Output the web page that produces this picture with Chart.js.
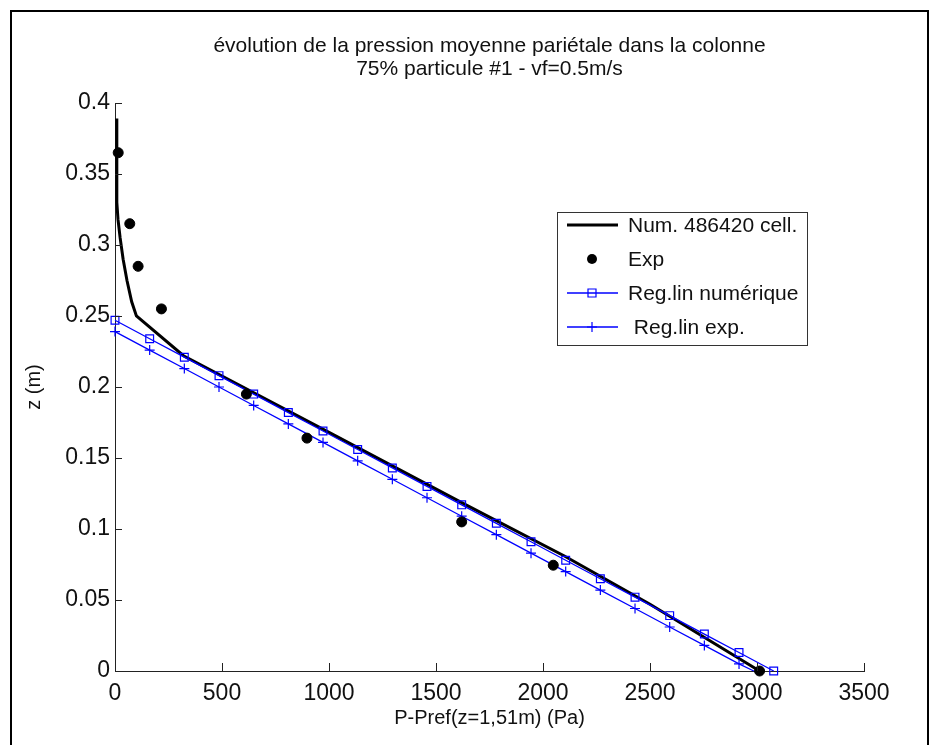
<!DOCTYPE html>
<html>
<head>
<meta charset="utf-8">
<title>pression moyenne pariétale</title>
<script src="https://cdn.jsdelivr.net/npm/chart.js@4.4.1/dist/chart.umd.min.js"></script>
<style>
  html, body { margin: 0; padding: 0; background: #fff; }
  #wrap { position: relative; width: 934px; height: 745px; overflow: hidden; }
  #frame { position: absolute; left: 10px; top: 10px; width: 915px; height: 780px; border: 2px solid #000; pointer-events: none; }
  canvas { position: absolute; left: 0; top: 0; }
</style>
</head>
<body>
<div id="wrap">
  <canvas id="myChart" width="934" height="745"></canvas>
  <div id="frame"></div>
</div>
<script>
// values: P - Pref (Pa) against z (m)
let numP = [8, 8, 9, 14, 24, 38, 56, 78, 100, 320, 1000, 1640, 2100, 2500, 3012];
let numZ = [0.389, 0.36, 0.33, 0.318, 0.305, 0.29, 0.275, 0.26, 0.25, 0.222, 0.168, 0.117, 0.081, 0.047, 0];

let expP = [15, 69, 108, 217, 614, 897, 1620, 2048, 3012];
let expZ = [0.365, 0.315, 0.285, 0.255, 0.195, 0.164, 0.105, 0.0745, 0];

let regNumP = [0, 162, 324, 486, 648, 810, 972, 1134, 1296, 1458, 1620, 1782, 1944, 2106, 2268, 2430, 2592, 2754, 2916, 3078];
let regNumZ = [0.247, 0.234, 0.221, 0.208, 0.195, 0.182, 0.169, 0.156, 0.143, 0.130, 0.117, 0.104, 0.091, 0.078, 0.065, 0.052, 0.039, 0.026, 0.013, 0];

let regExpP = [0, 162, 324, 486, 648, 810, 972, 1134, 1296, 1458, 1620, 1782, 1944, 2106, 2268, 2430, 2592, 2754, 2916, 2985];
let regExpZ = [0.239, 0.226, 0.213, 0.200, 0.187, 0.174, 0.161, 0.148, 0.135, 0.122, 0.109, 0.096, 0.083, 0.070, 0.057, 0.044, 0.031, 0.018, 0.005, 0];

let seriesLabels = ["Num. 486420 cell.", "Exp", "Reg.lin numérique", " Reg.lin exp."];
let titleLines = ["évolution de la pression moyenne pariétale dans la colonne", "75% particule #1 - vf=0.5m/s"];
let xTitle = "P-Pref(z=1,51m) (Pa)";
let yTitle = "z (m)";

let fontFamily = "'Liberation Sans', Arial, Helvetica, sans-serif";
let blue = "#0000ff";

function toPoints(xs, ys) {
  return xs.map((x, i) => ({ x: x, y: ys[i] }));
}

// title centred over the axes, like matlab does
let axesTitle = {
  id: "axesTitle",
  afterDraw(chart) {
    let { ctx, chartArea } = chart;
    let cx = (chartArea.left + chartArea.right) / 2;
    ctx.save();
    ctx.fillStyle = "#111";
    ctx.font = "21px " + fontFamily;
    ctx.textAlign = "center";
    ctx.textBaseline = "middle";
    ctx.fillText(titleLines[0], cx, 46);
    ctx.fillText(titleLines[1], cx, 69);
    ctx.restore();
  },
};

// matlab style ticks pointing into the plot
let inwardTicks = {
  id: "inwardTicks",
  afterDatasetsDraw(chart) {
    let { ctx, chartArea } = chart;
    let xs = chart.scales.x;
    let ys = chart.scales.y;
    ctx.save();
    ctx.strokeStyle = "#222";
    ctx.lineWidth = 1;
    xs.ticks.forEach((t) => {
      let px = Math.round(xs.getPixelForValue(t.value)) + 0.5;
      ctx.beginPath();
      ctx.moveTo(px, chartArea.bottom);
      ctx.lineTo(px, chartArea.bottom - 8);
      ctx.stroke();
    });
    ys.ticks.forEach((t) => {
      let py = Math.round(ys.getPixelForValue(t.value)) + 0.5;
      ctx.beginPath();
      ctx.moveTo(chartArea.left, py);
      ctx.lineTo(chartArea.left + 7, py);
      ctx.stroke();
    });
    ctx.restore();
  },
};

function drawMarker(ctx, style, x, y) {
  ctx.beginPath();
  if (style === "rect") {
    ctx.rect(x - 4, y - 4, 8, 8);
    ctx.stroke();
  } else if (style === "cross") {
    ctx.moveTo(x - 5, y); ctx.lineTo(x + 5, y);
    ctx.moveTo(x, y - 5); ctx.lineTo(x, y + 5);
    ctx.stroke();
  } else if (style === "circle") {
    ctx.arc(x, y, 5, 0, Math.PI * 2);
    ctx.fill();
  }
}

// boxed legend inside the plot, upper right
let boxLegend = {
  id: "boxLegend",
  afterDraw(chart) {
    let ctx = chart.ctx;
    let left = 557, top = 212, w = 250, h = 133;
    let rows = [225, 259, 293, 327];
    ctx.save();
    ctx.fillStyle = "#fff";
    ctx.fillRect(left, top, w, h);
    ctx.strokeStyle = "#333";
    ctx.lineWidth = 1;
    ctx.strokeRect(left + 0.5, top + 0.5, w, h);
    ctx.font = "21px " + fontFamily;
    ctx.textBaseline = "middle";
    chart.data.datasets.forEach((ds, i) => {
      let y = rows[i];
      ctx.strokeStyle = ds.borderColor;
      ctx.fillStyle = ds.borderColor;
      if (ds.showLine !== false) {
        ctx.lineWidth = ds.borderWidth;
        ctx.beginPath();
        ctx.moveTo(567, y);
        ctx.lineTo(618, y);
        ctx.stroke();
      }
      ctx.lineWidth = 1.2;
      if (ds.legendMarker) drawMarker(ctx, ds.pointStyle, 592, y);
      ctx.fillStyle = "#111";
      ctx.fillText(ds.label, 628, y + 1);
    });
    ctx.restore();
  },
};

let ctx = document.getElementById("myChart").getContext("2d");
let chart = new Chart(ctx, {
  type: "line",
  data: {
    datasets: [
      {
        label: seriesLabels[0],
        data: toPoints(numP, numZ),
        borderColor: "#000",
        borderWidth: 3,
        pointRadius: 0,
        pointStyle: "circle",
        legendMarker: false,
        tension: 0,
        clip: false,
        order: 3,
      },
      {
        label: seriesLabels[1],
        data: toPoints(expP, expZ),
        borderColor: "#000",
        backgroundColor: "#000",
        showLine: false,
        pointStyle: "circle",
        legendMarker: true,
        pointRadius: 5,
        pointBorderWidth: 1,
        clip: false,
        order: 0,
      },
      {
        label: seriesLabels[2],
        data: toPoints(regNumP, regNumZ),
        borderColor: blue,
        borderWidth: 1.3,
        pointStyle: "rect",
        legendMarker: true,
        pointRadius: 5.5,
        pointBorderWidth: 1.2,
        pointBackgroundColor: "rgba(0,0,0,0)",
        pointBorderColor: blue,
        clip: false,
        order: 1,
      },
      {
        label: seriesLabels[3],
        data: toPoints(regExpP, regExpZ),
        borderColor: blue,
        borderWidth: 1.3,
        pointStyle: "cross",
        legendMarker: true,
        pointRadius: (c) => (c.dataIndex === regExpP.length - 1 ? 0 : 5),
        pointBorderWidth: 1.2,
        pointBorderColor: blue,
        clip: false,
        order: 2,
      },
    ],
  },
  options: {
    responsive: false,
    animation: false,
    events: [],
    layout: { padding: { left: 0, right: 70, top: 103, bottom: 0 } },
    plugins: {
      legend: { display: false },
      tooltip: { enabled: false },
      title: { display: false },
    },
    scales: {
      x: {
        type: "linear",
        min: 0,
        max: 3500,
        grid: { display: false, drawTicks: false },
        border: { display: true, color: "#222", width: 1 },
        ticks: {
          stepSize: 500,
          color: "#111",
          padding: 9,
          maxRotation: 0,
          font: { family: fontFamily, size: 23 },
          callback: (v) => String(v),
        },
        title: {
          display: true,
          text: xTitle,
          color: "#111",
          font: { family: fontFamily, size: 20 },
          padding: { top: 0, bottom: 15 },
        },
        afterFit: (s) => { s.height = 74; },
      },
      y: {
        type: "linear",
        min: 0,
        max: 0.4,
        grid: { display: false, drawTicks: false },
        border: { display: true, color: "#222", width: 1 },
        ticks: {
          stepSize: 0.05,
          color: "#111",
          padding: 5,
          font: { family: fontFamily, size: 23 },
          callback: (v) => String(+v.toFixed(2)),
        },
        title: {
          display: true,
          text: yTitle,
          color: "#111",
          font: { family: fontFamily, size: 20 },
          padding: { top: 22, bottom: 0 },
        },
        afterFit: (s) => { s.width = 115; },
      },
    },
  },
  plugins: [inwardTicks, boxLegend, axesTitle],
});
</script>
</body>
</html>
